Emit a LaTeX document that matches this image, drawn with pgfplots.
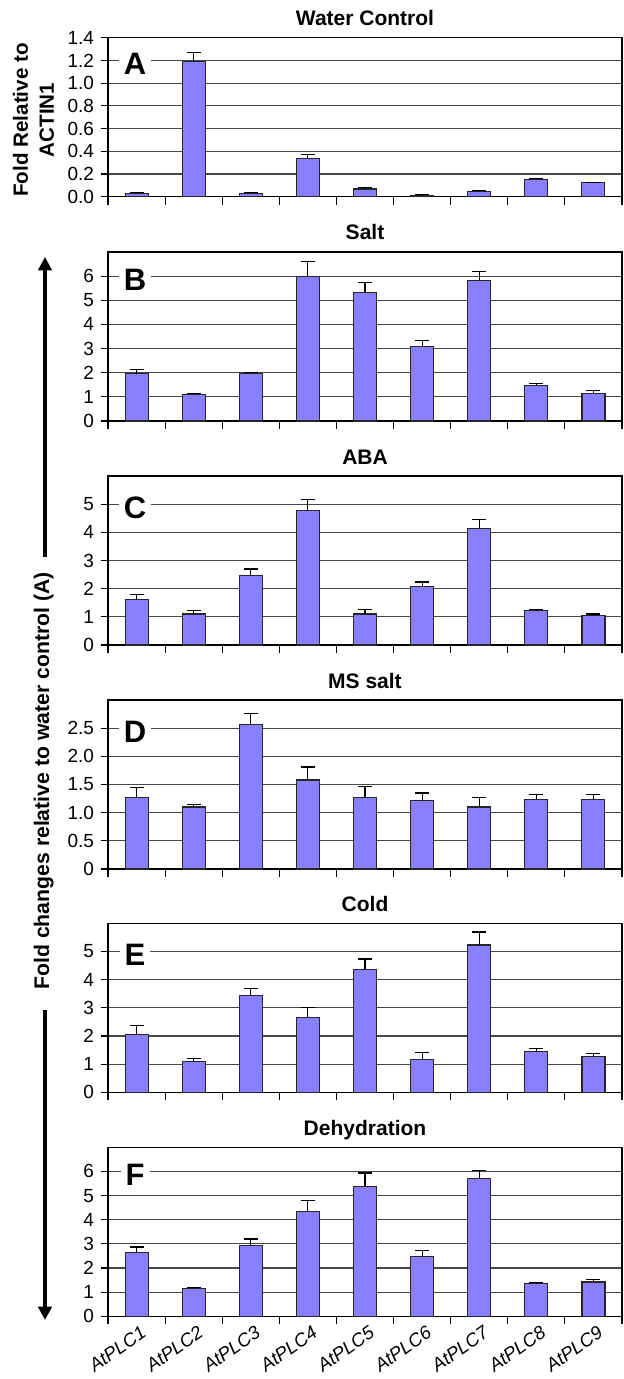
\documentclass[border=0pt]{standalone}
\usepackage{fontspec}
\setmainfont{Liberation Sans}
\usepackage{pgfplots}
\usepackage{pgfplotstable}
\pgfplotsset{compat=1.18}
\usetikzlibrary{arrows.meta}
\definecolor{barblue}{RGB}{136,128,255}

% x: category index, y: value, e: upper error
\pgfplotstableread{
x y e
0 0.030 0.005
1 1.190 0.080
2 0.030 0.005
3 0.338 0.035
4 0.068 0.015
5 0.012 0.004
6 0.044 0.010
7 0.153 0.009
8 0.123 0.004
}\dataA
\pgfplotstableread{
x y e
0 1.95 0.19
1 1.08 0.07
2 1.95 0.05
3 6.00 0.61
4 5.34 0.40
5 3.08 0.25
6 5.82 0.37
7 1.48 0.07
8 1.15 0.12
}\dataB
\pgfplotstableread{
x y e
0 1.61 0.18
1 1.10 0.12
2 2.48 0.22
3 4.77 0.40
4 1.10 0.16
5 2.08 0.16
6 4.15 0.30
7 1.22 0.04
8 1.04 0.06
}\dataC
\pgfplotstableread{
x y e
0 1.27 0.17
1 1.10 0.05
2 2.56 0.20
3 1.58 0.23
4 1.27 0.20
5 1.21 0.14
6 1.10 0.17
7 1.24 0.08
8 1.24 0.08
}\dataD
\pgfplotstableread{
x y e
0 2.04 0.32
1 1.11 0.10
2 3.45 0.24
3 2.65 0.35
4 4.37 0.36
5 1.17 0.23
6 5.23 0.46
7 1.44 0.12
8 1.27 0.12
}\dataE
\pgfplotstableread{
x y e
0 2.66 0.21
1 1.14 0.06
2 2.94 0.26
3 4.33 0.46
4 5.39 0.55
5 2.46 0.27
6 5.72 0.32
7 1.35 0.04
8 1.42 0.12
}\dataF

\tikzset{
  letter/.style={fill=white, inner xsep=2.5pt, inner ysep=0.8pt,
    font=\bfseries\fontsize{15.5}{15.5}\selectfont, yshift=-1.9pt, xshift=-0.75pt},
}
\pgfplotsset{
  every axis title shift=0pt,
  panel/.style={
    scale only axis, width=257pt, height=84.5pt,
    anchor=north west,
    xmin=-0.5, xmax=8.5, ymin=0,
    ybar, bar width=11.5pt,
    axis line style={black, line width=0.6pt},
    tick align=outside, tick pos=left,
    xtick={0,1,2,3,4,5,6,7,8}, xticklabels={},
    major x tick style={draw=none},
    minor xtick={-0.5,0.5,1.5,2.5,3.5,4.5,5.5,6.5,7.5,8.5},
    minor x tick style={black, line width=0.6pt},
    minor tick length=4pt,
    major tick length=3.5pt,
    ytick style={black, line width=0.6pt},
    ymajorgrids, grid style={black!72, line width=0.6pt},
    tick label style={font=\fontsize{9.5}{10}\selectfont},
    title style={font=\bfseries\fontsize{10.5}{12}\selectfont, anchor=base, yshift=6pt},
    /pgf/number format/assume math mode=true,
    clip=false,
  },
  bars/.style={
    fill=barblue, draw=black!85, line width=0.55pt,
    error bars/.cd, y dir=plus, y explicit,
    error bar style={black, line width=0.6pt},
    error mark options={rotate=90, mark size=3.5pt, black, line width=0.6pt},
  },
}

\begin{document}
\begin{tikzpicture}[x=1pt,y=1pt]
\useasboundingbox (0,0) rectangle (312,-689.5);

% A
\begin{axis}[panel, at={(54pt,-18.85pt)}, height=79.5pt, ymax=1.4,
  ytick={0,0.2,0.4,0.6,0.8,1.0,1.2,1.4},
  yticklabels={0.0,0.2,0.4,0.6,0.8,1.0,1.2,1.4},
  title={Water Control}]
\addplot[bars] table[x=x,y=y,y error=e] {\dataA};
\node[letter] at (axis cs:0,1.2) {A};
\end{axis}

% B
\begin{axis}[panel, at={(54pt,-126pt)}, ymax=7,
  ytick={0,1,2,3,4,5,6}, yticklabels={0,1,2,3,4,5,6},
  title={Salt}]
\addplot[bars] table[x=x,y=y,y error=e] {\dataB};
\node[letter] at (axis cs:0,6) {B};
\end{axis}

% C
\begin{axis}[panel, at={(54pt,-238pt)}, ymax=6,
  ytick={0,1,2,3,4,5}, yticklabels={0,1,2,3,4,5},
  title={ABA}]
\addplot[bars] table[x=x,y=y,y error=e] {\dataC};
\node[letter] at (axis cs:0,5) {C};
\end{axis}

% D
\begin{axis}[panel, at={(54pt,-350pt)}, ymax=3,
  ytick={0,0.5,1.0,1.5,2.0,2.5}, yticklabels={0,0.5,1.0,1.5,2.0,2.5},
  title={MS salt}]
\addplot[bars] table[x=x,y=y,y error=e] {\dataD};
\node[letter] at (axis cs:0,2.5) {D};
\end{axis}

% E
\begin{axis}[panel, at={(54pt,-461.65pt)}, ymax=6,
  ytick={0,1,2,3,4,5}, yticklabels={0,1,2,3,4,5},
  title={Cold}]
\addplot[bars] table[x=x,y=y,y error=e] {\dataE};
\node[letter] at (axis cs:0,5) {E};
\end{axis}

% F
\begin{axis}[panel, at={(54pt,-573.65pt)}, ymax=7,
  ytick={0,1,2,3,4,5,6}, yticklabels={0,1,2,3,4,5,6},
  xticklabels={AtPLC1,AtPLC2,AtPLC3,AtPLC4,AtPLC5,AtPLC6,AtPLC7,AtPLC8,AtPLC9},
  xticklabel style={rotate=35, anchor=north east, inner sep=1.5pt, xshift=2.5pt,
    font=\itshape\fontsize{9.3}{11}\selectfont},
  title={Dehydration}]
\addplot[bars] table[x=x,y=y,y error=e] {\dataF};
\node[letter] at (axis cs:0,6) {F};
\end{axis}

% left labels
\node[rotate=90, align=center, font=\bfseries\fontsize{10.3}{13}\selectfont, inner sep=0pt]
  at (16.8,-60) {Fold Relative to\\ACTIN1};
\node[rotate=90, font=\bfseries\fontsize{10.6}{12}\selectfont, inner sep=0pt]
  at (21.8,-390.5) {Fold changes relative to water control (A)};
\draw[line width=1.6pt, -{Triangle[width=6.7pt,length=6.7pt]}] (22.5,-278.5) -- (22.5,-128.5);
\draw[line width=1.6pt, -{Triangle[width=6.7pt,length=6.7pt]}] (22.5,-505) -- (22.5,-660);
\end{tikzpicture}
\end{document}
